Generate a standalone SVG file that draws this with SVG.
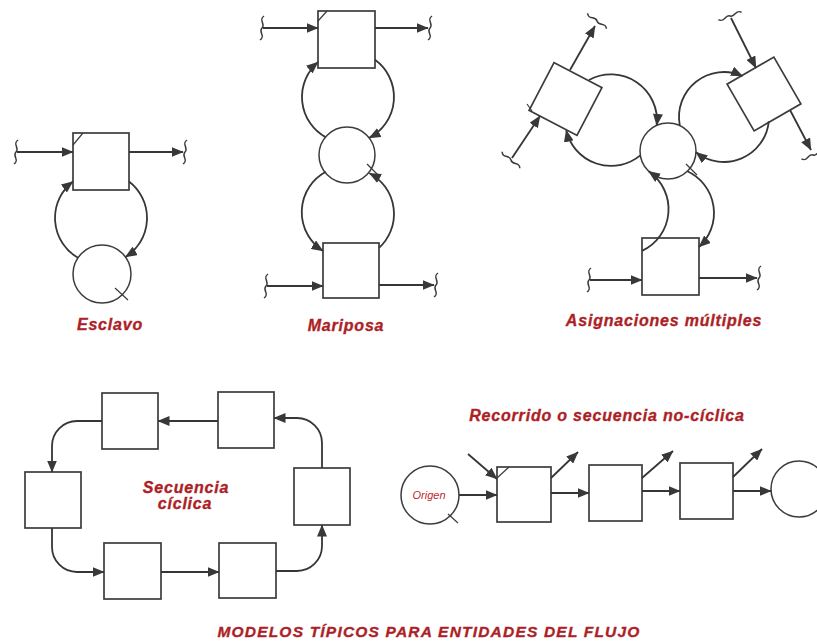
<svg xmlns="http://www.w3.org/2000/svg" xmlns:xlink="http://www.w3.org/1999/xlink" width="817" height="642" viewBox="0 0 817 642">
  <style>
    .box { fill: #ffffff; stroke: #3c3c3c; stroke-width: 1.7; }
    .node-c { fill: #ffffff; stroke: #3c3c3c; stroke-width: 1.5; }
    .mark { fill: none; stroke: #3c3c3c; stroke-width: 1.2; }
    .line { fill: none; stroke: #363636; stroke-width: 1.8; }
    .arr { marker-end: url(#arrow); }
    .lbl { font-family: "Liberation Sans", Arial, sans-serif; font-weight: bold; font-style: italic; font-size: 16px; letter-spacing: 0.8px; fill: #ad1f27; stroke: #ad1f27; stroke-width: 0.35; text-anchor: middle; }
    .small { font-family: "Liberation Sans", Arial, sans-serif; font-style: italic; font-size: 11px; fill: #c0272d; text-anchor: middle; }
    .title { font-family: "Liberation Sans", Arial, sans-serif; font-weight: bold; font-style: italic; font-size: 15.5px; letter-spacing: 1.2px; fill: #ad1f27; stroke: #ad1f27; stroke-width: 0.35; text-anchor: middle; }
  </style>
  <defs>
    <marker id="arrow" viewBox="0 0 12 10" refX="11.5" refY="5" markerWidth="12" markerHeight="10" markerUnits="userSpaceOnUse" orient="auto">
      <path d="M0,0 L12,5 L0,10 z" fill="#383838"/>
    </marker>
    <!-- wavy break mark at the open end of a flow -->
    <path id="sq" d="M2,-12 C-4,-8 4,-4 0,0 C-4,4 4,8 -2,12" fill="none" stroke="#3a3a3a" stroke-width="1.5"/>
  </defs>

  <rect width="817" height="642" fill="#ffffff"/>

  <!-- ===== Esclavo ===== -->
  <g id="esclavo-box">
    <rect class="box" x="73" y="133" width="56" height="57"/>
    <path class="mark" d="M73,145 L83,133"/>
  </g>
  <g id="esclavo-circle">
    <circle class="node-c" cx="102" cy="274" r="29"/>
    <path class="mark" d="M115,288 L128,300"/>
  </g>

  <!-- ===== Mariposa ===== -->
  <g id="mariposa-top">
    <rect class="box" x="318" y="11" width="57" height="57"/>
    <path class="mark" d="M318,21 L327,11"/>
  </g>
  <g id="mariposa-circle">
    <circle class="node-c" cx="347" cy="155" r="28"/>
    <path class="mark" d="M367,164 L378,175"/>
  </g>
  <g id="mariposa-bottom">
    <rect class="box" x="323" y="243" width="56" height="55"/>
  </g>

  <!-- ===== Asignaciones multiples ===== -->
  <g id="asig-left">
    <rect class="box" x="-27" y="-27" width="54" height="54" transform="translate(565.5,99) rotate(27.5)"/>
    <path class="mark" d="M527,104 L532,111"/>
  </g>
  <g id="asig-right">
    <rect class="box" x="-27" y="-27" width="54" height="54" transform="translate(764,94) rotate(-30)"/>
  </g>
  <g id="asig-circle">
    <circle class="node-c" cx="668" cy="151" r="28"/>
    <path class="mark" d="M686,164 L697,175"/>
  </g>
  <g id="asig-bottom">
    <rect class="box" x="642" y="238" width="57" height="57"/>
  </g>

  <!-- ===== Secuencia ciclica ===== -->
  <g id="cyc-top-left"><rect class="box" x="102" y="393" width="56" height="56"/></g>
  <g id="cyc-top-right"><rect class="box" x="218" y="392" width="56" height="56"/></g>
  <g id="cyc-right"><rect class="box" x="294" y="468" width="56" height="57"/></g>
  <g id="cyc-left"><rect class="box" x="25" y="472" width="56" height="56"/></g>
  <g id="cyc-bottom-left"><rect class="box" x="104" y="543" width="57" height="56"/></g>
  <g id="cyc-bottom-right"><rect class="box" x="219" y="543" width="57" height="55"/></g>

  <!-- ===== Recorrido no ciclico ===== -->
  <g id="origen">
    <circle class="node-c" cx="430" cy="495" r="29"/>
    <path class="mark" d="M448,514 L458,523"/>
    <text class="small" x="429" y="499">Origen</text>
  </g>
  <g id="rec-1">
    <rect class="box" x="497" y="467" width="54" height="55"/>
    <path class="mark" d="M497,478 L509,467"/>
  </g>
  <g id="rec-2"><rect class="box" x="589" y="465" width="53" height="56"/></g>
  <g id="rec-3"><rect class="box" x="680" y="463" width="53" height="56"/></g>
  <g id="rec-end"><circle class="node-c" cx="799" cy="489" r="28"/></g>

  <!-- ===== Connectors ===== -->
  <g id="connectors">
    <!-- Esclavo -->
    <path class="line arr" d="M17,152 H73"/>
    <path class="line arr" d="M129,152 H183"/>
    <path class="line arr" d="M129,181.5 A46,46 0 0 1 125.4,257"/>
    <path class="line arr" d="M78,257.8 A46,46 0 0 1 73,181.5"/>

    <!-- Mariposa -->
    <path class="line arr" d="M263,28 H318"/>
    <path class="line arr" d="M375,28 H428"/>
    <path class="line arr" d="M375,59.8 A46,46 0 0 1 369.1,137.9"/>
    <path class="line arr" d="M325.5,137.1 A46,46 0 0 1 318,62.1"/>
    <path class="line arr" d="M379,247.9 A46,46 0 0 0 369.4,173.2"/>
    <path class="line arr" d="M325.8,171.7 A46,46 0 0 0 323,250.9"/>
    <path class="line arr" d="M267,286 H323"/>
    <path class="line arr" d="M379,285 H434"/>

    <!-- Asignaciones multiples -->
    <path class="line arr" d="M589,80 A46,46 0 0 1 656.7,125.4"/>
    <path class="line arr" d="M640.3,155.4 A46,46 0 0 1 566.2,130.3"/>
    <path class="line arr" d="M679.8,125.6 A45,45 0 0 1 742.5,76"/>
    <path class="line arr" d="M768.8,121.3 A45,45 0 0 1 696,152.2"/>
    <path class="line arr" d="M642,250.9 A46,46 0 0 0 648.6,171.3"/>
    <path class="line arr" d="M687.4,171.3 A46,46 0 0 1 699,247"/>
    <path class="line arr" d="M570,70 L595,26"/>
    <path class="line arr" d="M512,158 L540,116"/>
    <path class="line arr" d="M731,18 L756,68"/>
    <path class="line arr" d="M790,110 L811,150"/>
    <path class="line arr" d="M590,280 H642"/>
    <path class="line arr" d="M699,278 H757"/>

    <!-- Secuencia ciclica -->
    <path class="line arr" d="M218,421 H158"/>
    <path class="line arr" d="M102,421 H77 A25,25 0 0 0 52,446 V472"/>
    <path class="line arr" d="M52,528 V547 A25,25 0 0 0 77,572 H104"/>
    <path class="line arr" d="M161,572 H219"/>
    <path class="line arr" d="M276,571 H297 A25,25 0 0 0 322,546 V525"/>
    <path class="line arr" d="M322,468 V443 A25,25 0 0 0 297,418 H274"/>

    <!-- Recorrido no ciclico -->
    <path class="line arr" d="M459,495 H497"/>
    <path class="line arr" d="M468,454 L497,479"/>
    <path class="line arr" d="M551,478 L578,452"/>
    <path class="line arr" d="M551,493 H589"/>
    <path class="line arr" d="M642,478 L673,451"/>
    <path class="line arr" d="M642,491 H680"/>
    <path class="line arr" d="M733,477 L762,449"/>
    <path class="line arr" d="M733,491 H771"/>

    <!-- open flow ends -->
    <use xlink:href="#sq" href="#sq" transform="translate(16,152)"/>
    <use xlink:href="#sq" href="#sq" transform="translate(185,152)"/>
    <use xlink:href="#sq" href="#sq" transform="translate(262,28)"/>
    <use xlink:href="#sq" href="#sq" transform="translate(430,28)"/>
    <use xlink:href="#sq" href="#sq" transform="translate(266,286)"/>
    <use xlink:href="#sq" href="#sq" transform="translate(436,285)"/>
    <use xlink:href="#sq" href="#sq" transform="translate(589,280)"/>
    <use xlink:href="#sq" href="#sq" transform="translate(759,278)"/>
    <use xlink:href="#sq" href="#sq" transform="translate(597,21) rotate(-60)"/>
    <use xlink:href="#sq" href="#sq" transform="translate(511,160) rotate(-56)"/>
    <use xlink:href="#sq" href="#sq" transform="translate(730,16) rotate(63)"/>
    <use xlink:href="#sq" href="#sq" transform="translate(813,155) rotate(62)"/>
  </g>

  <!-- ===== Labels ===== -->
  <g id="labels">
    <text class="lbl" x="110" y="330">Esclavo</text>
    <text class="lbl" x="346" y="331">Mariposa</text>
    <text class="lbl" x="664" y="326">Asignaciones múltiples</text>
    <text class="lbl" x="186" y="493">Secuencia</text>
    <text class="lbl" x="185" y="509">cíclica</text>
    <text class="lbl" x="607" y="421">Recorrido o secuencia no-cíclica</text>
    <text class="title" x="429" y="637">MODELOS TÍPICOS PARA ENTIDADES DEL FLUJO</text>
  </g>
</svg>
